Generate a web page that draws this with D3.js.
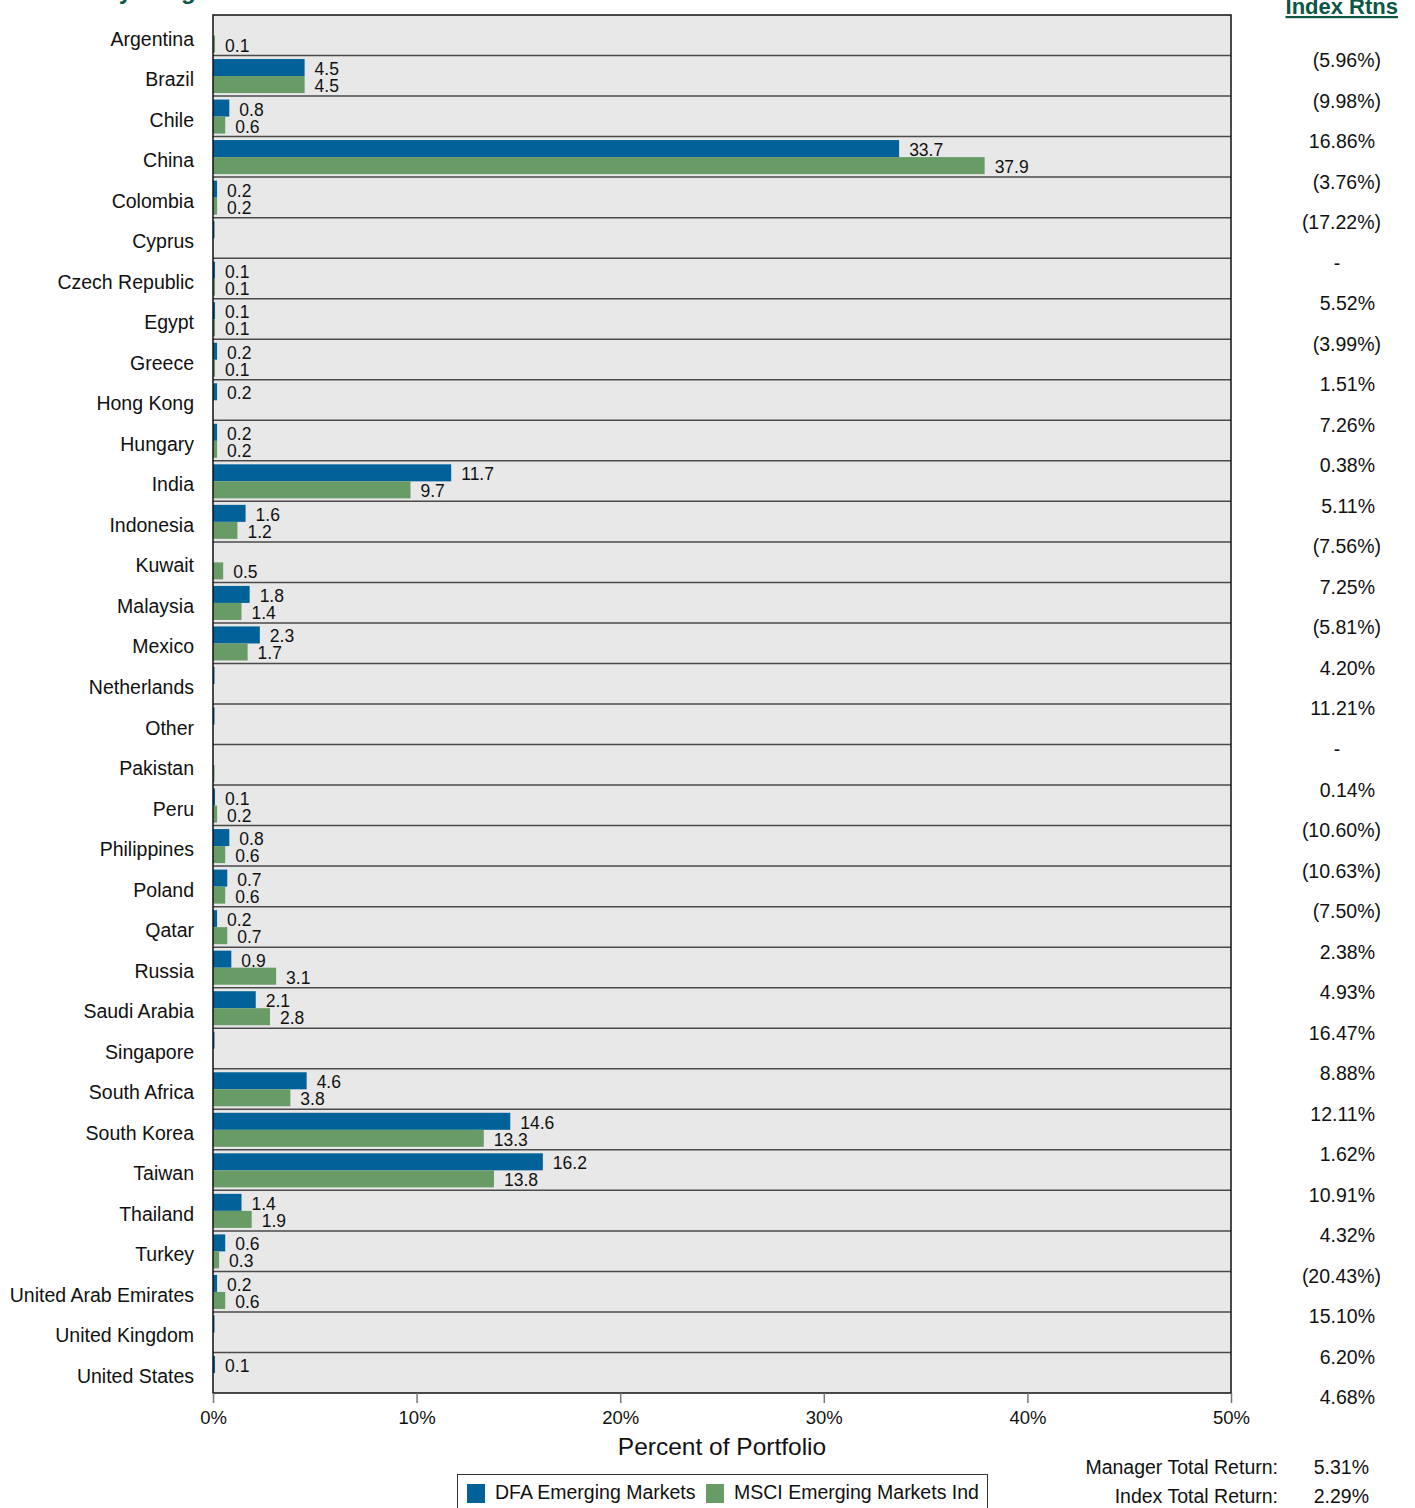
<!DOCTYPE html>
<html>
<head>
<meta charset="utf-8">
<script src="https://cdn.jsdelivr.net/npm/d3@7"></script>
<style>
  body { margin: 0; background: #fff; }
  svg { font-family: "Liberation Sans", Arial, sans-serif; }
</style>
</head>
<body>
<div id="chart"></div>
<script>
// country weights (percent of portfolio)
const countries = ["Argentina", "Brazil", "Chile", "China", "Colombia", "Cyprus", "Czech Republic", "Egypt",
  "Greece", "Hong Kong", "Hungary", "India", "Indonesia", "Kuwait", "Malaysia", "Mexico", "Netherlands",
  "Other", "Pakistan", "Peru", "Philippines", "Poland", "Qatar", "Russia", "Saudi Arabia", "Singapore",
  "South Africa", "South Korea", "Taiwan", "Thailand", "Turkey", "United Arab Emirates", "United Kingdom",
  "United States"];

const dfaValues = [0, 4.5, 0.8, 33.7, 0.2, 0.03, 0.1, 0.1, 0.2, 0.2, 0.2, 11.7, 1.6, 0, 1.8, 2.3, 0.02,
  0.02, 0, 0.1, 0.8, 0.7, 0.2, 0.9, 2.1, 0.02, 4.6, 14.6, 16.2, 1.4, 0.6, 0.2, 0.03, 0.1];

const msciValues = [0.1, 4.5, 0.6, 37.9, 0.2, 0, 0.1, 0.1, 0.1, 0, 0.2, 9.7, 1.2, 0.5, 1.4, 1.7, 0, 0,
  0.03, 0.2, 0.6, 0.6, 0.7, 3.1, 2.8, 0, 3.8, 13.3, 13.8, 1.9, 0.3, 0.6, 0, 0];

const indexReturns = ["(5.96%)", "(9.98%)", "16.86%", "(3.76%)", "(17.22%)", "-", "5.52%", "(3.99%)",
  "1.51%", "7.26%", "0.38%", "5.11%", "(7.56%)", "7.25%", "(5.81%)", "4.20%", "11.21%", "-", "0.14%",
  "(10.60%)", "(10.63%)", "(7.50%)", "2.38%", "4.93%", "16.47%", "8.88%", "12.11%", "1.62%", "10.91%",
  "4.32%", "(20.43%)", "15.10%", "6.20%", "4.68%"];

const xTicks = [0, 10, 20, 30, 40, 50];
const seriesNames = ["DFA Emerging Markets", "MSCI Emerging Markets Ind"];
const totals = [["Manager Total Return:", "5.31%"], ["Index Total Return:", "2.29%"]];

const drawChart = () => {
  const width = 1415;
  const height = 1508;
  const margin = { top: 15, left: 213, right: 184, bottom: 115 };
  const plotRight = width - margin.right;
  const plotBottom = height - margin.bottom;

  const blue = "#006299";
  const green = "#699b67";
  const darkGreen = "#0b5744";

  const svg = d3.select("#chart").append("svg")
    .attr("width", width)
    .attr("height", height);

  const xScale = d3.scaleLinear().domain([0, 50]).range([margin.left, plotRight]);
  const yScale = d3.scaleBand().domain(countries).range([margin.top, plotBottom]);
  const subScale = d3.scaleBand().domain(["dfa", "msci"]).range([3.5, yScale.bandwidth() - 3]);

  // title (cut off at top) and returns header
  svg.append("text")
    .attr("x", 40).attr("y", -1)
    .attr("font-size", 24).attr("font-weight", "bold")
    .attr("fill", darkGreen)
    .text("Country Weights");

  svg.append("text")
    .attr("x", 1398).attr("y", 14)
    .attr("text-anchor", "end")
    .attr("font-size", 22).attr("font-weight", "bold")
    .attr("fill", darkGreen)
    .attr("text-decoration", "underline")
    .text("Index Rtns");

  // plot background
  svg.append("rect")
    .attr("x", margin.left).attr("y", margin.top)
    .attr("width", plotRight - margin.left)
    .attr("height", plotBottom - margin.top)
    .attr("fill", "#e8e8e8");

  const rows = countries.map((c, i) => ({ country: c, dfa: dfaValues[i], msci: msciValues[i], ret: indexReturns[i] }));

  // row separators
  svg.selectAll(".sep")
    .data(countries.slice(1))
    .join("line")
      .attr("class", "sep")
      .attr("x1", margin.left).attr("x2", plotRight)
      .attr("y1", d => yScale(d)).attr("y2", d => yScale(d))
      .attr("stroke", "#4a4a4a")
      .attr("stroke-width", 1.5);

  const rowG = svg.selectAll(".row")
    .data(rows)
    .join("g")
      .attr("class", "row")
      .attr("transform", d => `translate(0,${yScale(d.country)})`);

  ["dfa", "msci"].forEach((key, k) => {
    const color = k === 0 ? blue : green;
    rowG.filter(d => d[key] > 0)
      .append("rect")
        .attr("x", margin.left)
        .attr("y", subScale(key))
        .attr("width", d => Math.max(xScale(d[key]) - margin.left, 1.5))
        .attr("height", subScale.bandwidth())
        .attr("fill", color);

    rowG.filter(d => d[key] >= 0.05)
      .append("text")
        .attr("x", d => xScale(d[key]) + 10)
        .attr("y", subScale(key) + subScale.bandwidth() - 1)
        .attr("font-size", 17.5)
        .attr("fill", "#111")
        .text(d => d3.format(".1f")(d[key]));
  });

  // country labels
  rowG.append("text")
    .attr("x", 194)
    .attr("y", 30.5)
    .attr("text-anchor", "end")
    .attr("font-size", 19.5)
    .attr("fill", "#111")
    .text(d => d.country);

  // index returns column
  rowG.append("text")
    .attr("x", d => d.ret === "-" ? 1337 : d.ret.startsWith("(") ? 1381 : 1375)
    .attr("y", 52)
    .attr("text-anchor", d => d.ret === "-" ? "middle" : "end")
    .attr("font-size", 19.5)
    .attr("fill", "#111")
    .text(d => d.ret);

  // plot border
  svg.append("rect")
    .attr("x", margin.left).attr("y", margin.top)
    .attr("width", plotRight - margin.left)
    .attr("height", plotBottom - margin.top)
    .attr("fill", "none")
    .attr("stroke", "#111")
    .attr("stroke-width", 1.5);

  // x axis
  const xAxis = d3.axisBottom(xScale)
    .tickValues(xTicks)
    .tickFormat(d => d + "%")
    .tickSize(10)
    .tickPadding(8);

  const axisG = svg.append("g")
    .attr("transform", `translate(0,${plotBottom})`)
    .call(xAxis);
  axisG.select(".domain").remove();
  axisG.selectAll(".tick line").attr("stroke", "#777").attr("stroke-width", 1.5);
  axisG.selectAll(".tick text")
    .attr("font-size", 18.5)
    .attr("font-family", "Liberation Sans, Arial, sans-serif")
    .attr("fill", "#111");

  svg.append("text")
    .attr("x", (margin.left + plotRight) / 2)
    .attr("y", 1455)
    .attr("text-anchor", "middle")
    .attr("font-size", 24.5)
    .attr("fill", "#111")
    .text("Percent of Portfolio");

  // legend
  const legend = svg.append("g");
  legend.append("rect")
    .attr("x", 457.5).attr("y", 1474.5)
    .attr("width", 530).attr("height", 40)
    .attr("fill", "#fff")
    .attr("stroke", "#333");

  const legendX = [467, 706];
  seriesNames.forEach((name, i) => {
    legend.append("rect")
      .attr("x", legendX[i]).attr("y", 1484)
      .attr("width", 18).attr("height", 19)
      .attr("fill", i === 0 ? blue : green);
    legend.append("text")
      .attr("x", legendX[i] + 28).attr("y", 1499)
      .attr("font-size", 19.5)
      .attr("fill", "#111")
      .text(name);
  });

  // total returns
  totals.forEach((t, i) => {
    svg.append("text")
      .attr("x", 1278).attr("y", 1474 + i * 29)
      .attr("text-anchor", "end")
      .attr("font-size", 19.5)
      .attr("fill", "#111")
      .text(t[0]);
    svg.append("text")
      .attr("x", 1369).attr("y", 1474 + i * 29)
      .attr("text-anchor", "end")
      .attr("font-size", 19.5)
      .attr("fill", "#111")
      .text(t[1]);
  });
};

drawChart();
</script>
</body>
</html>
